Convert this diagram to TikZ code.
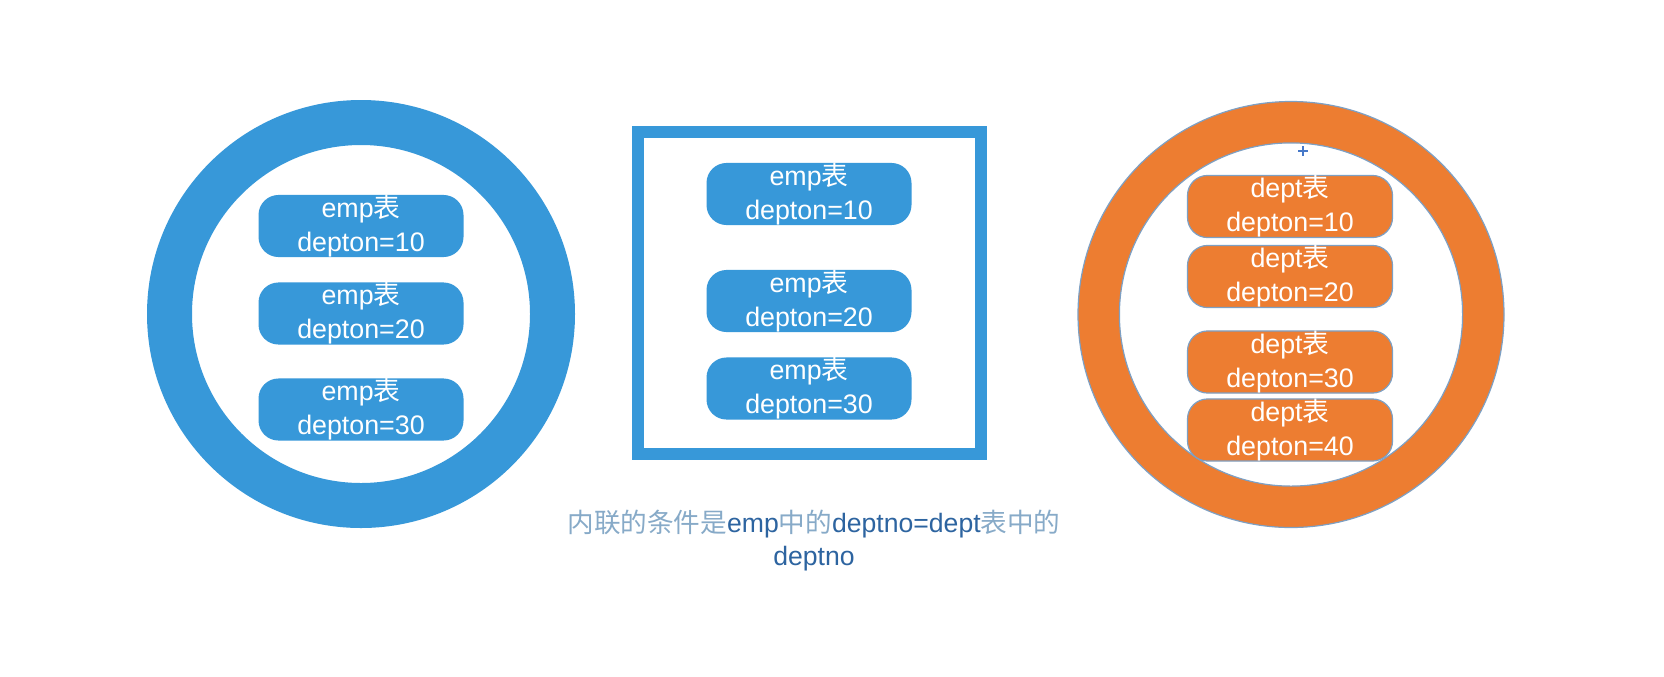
\documentclass[tikz,border=0pt]{standalone}
\usepackage{fontspec}
\setmainfont{Liberation Sans}
\newfontfamily\cjk{Noto Sans CJK SC}
\definecolor{ringblue}{RGB}{55,152,217}
\definecolor{ringorange}{RGB}{237,125,49}
\definecolor{edgeblue}{RGB}{125,160,196}
\definecolor{capzh}{RGB}{135,170,200}
\definecolor{capen}{RGB}{45,100,160}
\definecolor{markblue}{RGB}{70,120,200}
\newcommand{\zh}[1]{{\cjk #1}}

\begin{document}
\begin{tikzpicture}[x=0.5pt, y=-0.5pt,
  pill/.style={rectangle, rounded corners=10pt, minimum width=102.5pt,
    minimum height=28.5pt, inner sep=0pt, align=center, text=white,
    font=\fontsize{13.4pt}{17pt}\selectfont}]

\fill[white] (0,0) rectangle (1664,676);
\useasboundingbox (0,0) rectangle (1664,676);

\coordinate (empc) at (361,314);
\coordinate (deptc) at (1291,314.5);

\fill[ringblue, even odd rule] (empc) circle (107pt) (empc) circle (84.5pt);

\draw[ringblue, line width=6pt] (638,132) rectangle (981,454);

\fill[ringorange, even odd rule] (deptc) circle (106.5pt) (deptc) circle (85.8pt);
\draw[edgeblue, line width=0.6pt] (deptc) circle (106.5pt) (deptc) circle (85.8pt);

\draw[markblue, line width=0.6pt] (1298,151) -- (1308,151) (1303,146) -- (1303,156);

\node[pill, fill=ringblue] (e1) at (361,226) {emp\zh{表}\\depton=10};
\node[pill, fill=ringblue] (e2) at (361,313.5) {emp\zh{表}\\depton=20};
\node[pill, fill=ringblue] (e3) at (361,409.5) {emp\zh{表}\\depton=30};

\node[pill, fill=ringblue] (m1) at (809,194) {emp\zh{表}\\depton=10};
\node[pill, fill=ringblue] (m2) at (809,301) {emp\zh{表}\\depton=20};
\node[pill, fill=ringblue] (m3) at (809,388.5) {emp\zh{表}\\depton=30};

\node[pill, fill=ringorange, draw=edgeblue, line width=0.6pt] (d1) at (1290,206.5) {dept\zh{表}\\depton=10};
\node[pill, fill=ringorange, draw=edgeblue, line width=0.6pt] (d2) at (1290,276.5) {dept\zh{表}\\depton=20};
\node[pill, fill=ringorange, draw=edgeblue, line width=0.6pt] (d3) at (1290,362) {dept\zh{表}\\depton=30};
\node[pill, fill=ringorange, draw=edgeblue, line width=0.6pt] (d4) at (1290,430) {dept\zh{表}\\depton=40};

\node[align=center, font=\fontsize{13.3pt}{16.5pt}\selectfont] (cond) at (814,541)
  {\textcolor{capzh}{\zh{内联的条件是}}\textcolor{capen}{emp}\textcolor{capzh}{\zh{中的}}\textcolor{capen}{deptno=dept}\textcolor{capzh}{\zh{表中的}}\\
   \textcolor{capen}{deptno}};

\end{tikzpicture}
\end{document}
